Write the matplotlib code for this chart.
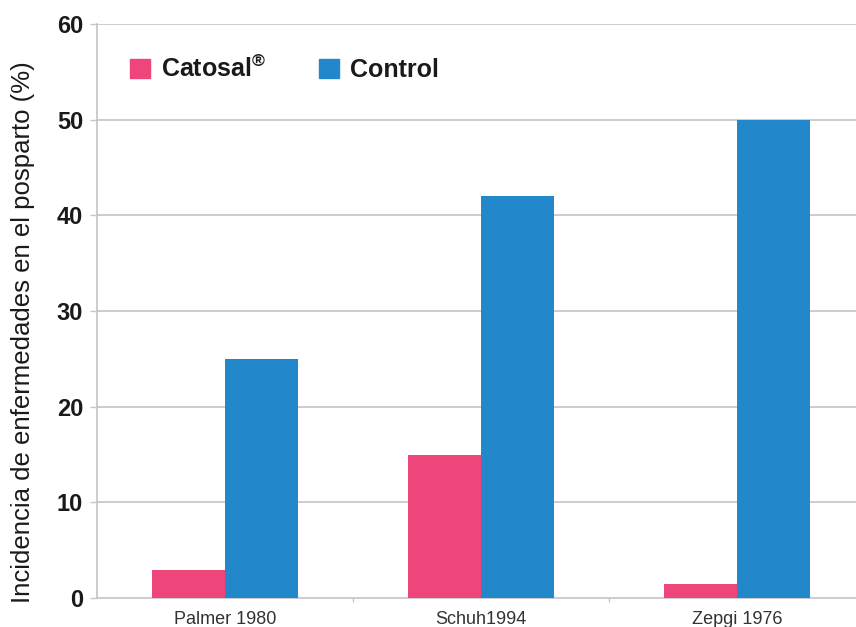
import matplotlib
matplotlib.use("Agg")
import matplotlib.pyplot as plt
import numpy as np
from matplotlib.patches import Patch

plt.rcParams['font.family'] = ['Liberation Sans', 'DejaVu Sans']
plt.rcParams['mathtext.fontset'] = 'custom'
plt.rcParams['mathtext.rm'] = 'Liberation Sans:bold'
plt.rcParams['mathtext.it'] = 'Liberation Sans:bold'
plt.rcParams['mathtext.bf'] = 'Liberation Sans:bold'

categories = ["Palmer 1980", "Schuh1994", "Zepgi 1976"]
catosal = [2.9, 15.0, 1.5]
control = [25.0, 42.0, 50.0]
series_names = ["Catosal$^{\u00ae}$", "Control"]
yticks = [0, 10, 20, 30, 40, 50, 60]
ylabel = "Incidencia de enfermedades en el posparto (%)"

pink = "#EE457A"
blue = "#2388CB"
grid_c = "#C4C4C8"

fig = plt.figure(figsize=(8.56, 6.27), dpi=100)
ax = fig.add_axes([97/856, (627-598)/627, 1 - 97/856, 574/627])

x = np.arange(len(categories))
w = 0.285
ax.bar(x - w/2, catosal, width=w, color=pink, zorder=3)
ax.bar(x + w/2, control, width=w, color=blue, zorder=3)

ax.set_xlim(-0.5, -0.5 + 759/256)
ax.set_ylim(0, 60)
ax.set_yticks(yticks)
ax.set_yticklabels([str(t) for t in yticks], fontsize=17, fontweight='bold', color='#1a1a1a')
ax.set_xticks(x)
ax.set_xticklabels(categories, fontsize=13, color='#333333')
ax.tick_params(axis='x', length=0, pad=9)
ax.set_xticks([0.5, 1.5], minor=True)
ax.tick_params(axis='x', which='minor', length=3, color=grid_c, width=1)
ax.tick_params(axis='y', length=5, color=grid_c, width=1, pad=5)

for t in yticks[1:]:
    ax.axhline(t, color=grid_c, lw=1.2, zorder=1)

for s in ['top', 'right']:
    ax.spines[s].set_visible(False)
ax.spines['left'].set_color(grid_c)
ax.spines['left'].set_linewidth(1.2)
ax.spines['bottom'].set_color(grid_c)
ax.spines['bottom'].set_linewidth(1.2)

ax.set_ylabel(ylabel, fontsize=18.5, color='#1a1a1a')
ax.yaxis.set_label_coords(-(97 - 23) / 759, (598 - 332) / 574)
ax.yaxis.label.set_va('center')

handles = [Patch(color=pink), Patch(color=blue)]
leg = ax.legend(handles, series_names, loc='upper left', bbox_to_anchor=((130 - 97) / 759, (598 - 56) / 574),
                ncol=2, frameon=False, handlelength=0.8, handleheight=0.8,
                handletextpad=0.45, columnspacing=2.1, borderpad=0, borderaxespad=0,
                prop={'size': 18, 'weight': 'bold'})
for t in leg.get_texts():
    t.set_color('#1a1a1a')

fig.savefig("out.png", dpi=100)
